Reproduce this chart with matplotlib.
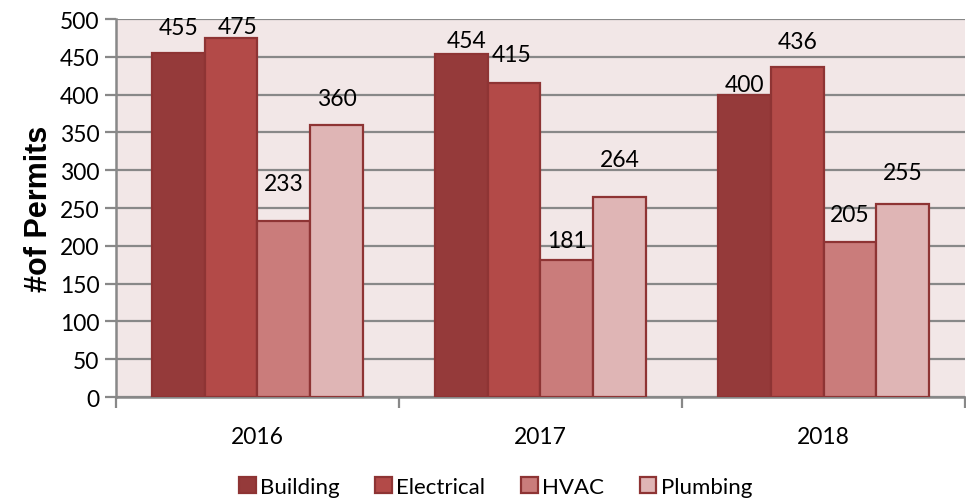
import numpy as np
import matplotlib.pyplot as plt

years = ["2016", "2017", "2018"]
series = ["Building", "Electrical", "HVAC", "Plumbing"]
building = [455, 454, 400]
electrical = [475, 415, 436]
hvac = [233, 181, 205]
plumbing = [360, 264, 255]

colors = ["#953A3A", "#B34A48", "#CA7C7B", "#DFB5B5"]
edge = "#8E3434"
# label offsets (pixels) per series per year, as placed in the original
label_dy = [[26, 13, 10], [11, 29, 26], [37, 20, 28], [26, 38, 32]]
label_dx = [[0, 5, 0], [6, -3, 0], [0, 0, 0], [0, 0, 0]]

plt.rcParams["font.family"] = ["Lato", "DejaVu Sans"]

fig = plt.figure(figsize=(9.66, 5.02), dpi=100)
ax = fig.add_axes([0.120, 0.207, 0.879, 0.753])
ax.set_facecolor("#F2E7E7")

values = [building, electrical, hvac, plumbing]
x = np.arange(len(years))
w = 0.186
for i, (name, vals) in enumerate(zip(series, values)):
    pos = x + (i - 1.5) * w
    bars = ax.bar(pos, vals, width=w, color=colors[i], edgecolor=edge,
                  linewidth=1.6, label=name, zorder=3)
    for j, (b, v) in enumerate(zip(bars, vals)):
        ax.annotate(str(v), (b.get_x() + b.get_width() / 2, v),
                    xytext=(label_dx[i][j], label_dy[i][j]),
                    textcoords="offset pixels", ha="center", va="center",
                    fontsize=16.5, color="black", zorder=4)

ax.set_ylim(0, 500)
ax.set_xlim(-0.5, 2.5)
ax.set_yticks(np.arange(0, 501, 50))
ax.yaxis.grid(True, color="#888888", linewidth=1.6, zorder=1)
ax.set_axisbelow(True)

ax.set_xticks(x)
ax.set_xticklabels(years, fontsize=16.5)
ax.set_xticks(np.arange(-0.5, 2.6, 1), minor=True)
ax.tick_params(axis="x", which="major", length=0, pad=21)
ax.tick_params(axis="x", which="minor", length=8, width=1.6, color="#888888")
ax.tick_params(axis="y", length=8, width=1.6, color="#888888", labelsize=16.5, pad=4)

for s in ["top", "right"]:
    ax.spines[s].set_visible(False)
for s in ["left", "bottom"]:
    ax.spines[s].set_color("#888888")
    ax.spines[s].set_linewidth(1.8)

ax.set_ylabel("#of Permits", fontsize=22, fontweight="bold",
              family="Liberation Sans", labelpad=4)

ax.legend(loc="center", bbox_to_anchor=(0.447, -0.238), ncol=4, frameon=False,
          fontsize=16, handlelength=0.75, handleheight=0.75, handletextpad=0.2,
          columnspacing=1.6)

fig.savefig("out.png", dpi=100)
